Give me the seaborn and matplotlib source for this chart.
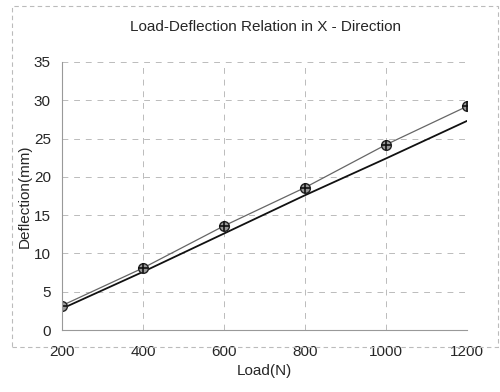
import pandas as pd
import matplotlib.pyplot as plt
import seaborn as sns
from matplotlib.patches import Rectangle

# Load values (N)
load = [200, 400, 600, 800, 1000, 1200]
# Measured deflection (with markers)
measured = [3.2, 8.1, 13.6, 18.6, 24.2, 29.2]
# Predicted deflection (solid line)
predicted = [2.8, 7.6, 12.6, 17.6, 22.4, 27.3]

sns.set_style("white")
plt.rcParams['font.family'] = ['Liberation Sans', 'DejaVu Sans']

df = pd.DataFrame({"Load": load, "Measured": measured, "Predicted": predicted})

fig = plt.figure(figsize=(5, 3.92), dpi=100)
ax = fig.add_axes([0.124, 0.158, 0.81, 0.684])

sns.lineplot(data=df, x="Load", y="Predicted", ax=ax, color="#111111", linewidth=1.3)
sns.lineplot(data=df, x="Load", y="Measured", ax=ax, color="#666666", linewidth=0.9,
             marker="o", markersize=7, markerfacecolor="#999999", markeredgecolor="#222222",
             markeredgewidth=1.0)
ax.plot(df["Load"], df["Measured"], linestyle="none", marker="+", markersize=7,
        color="#111111", markeredgewidth=1.2)

ax.set_xlim(200, 1200)
ax.set_ylim(0, 35)
ax.set_xticks(load)
ax.set_yticks(range(0, 36, 5))
ax.grid(True, linestyle=(0, (6, 6)), color="#bbbbbb", linewidth=0.7)
for side in ["top", "right"]:
    ax.spines[side].set_visible(False)
for side in ["left", "bottom"]:
    ax.spines[side].set_color("#999999")
    ax.spines[side].set_linewidth(0.8)
ax.tick_params(axis="x", labelsize=11, length=0, pad=11)
ax.tick_params(axis="y", labelsize=11, length=0, pad=8)

ax.set_xlabel("Load(N)", fontsize=11, labelpad=3)
ax.set_ylabel("Deflection(mm)", fontsize=11)
ax.yaxis.set_label_coords(-0.075, 0.5)
fig.text(0.53, 0.93, "Load-Deflection Relation in X - Direction", ha="center", va="center", fontsize=11)

fig.patches.append(Rectangle((0.024, 0.115), 0.972, 0.87, transform=fig.transFigure,
                             fill=False, edgecolor="#bbbbbb", linewidth=0.8, linestyle=(0, (4, 3))))

fig.savefig("out.png", dpi=100)
